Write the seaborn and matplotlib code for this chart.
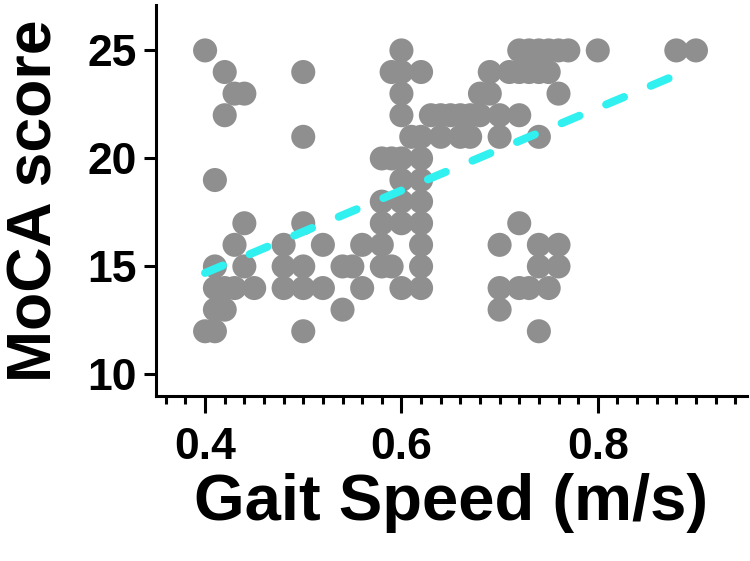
import numpy as np
import pandas as pd
import matplotlib
matplotlib.use('Agg')
import matplotlib.pyplot as plt
from matplotlib.ticker import MultipleLocator
import seaborn as sns

###############################################################################
# Data
###############################################################################
moca_levels = [25, 24, 23, 22, 21, 20, 19, 18, 17, 16, 15, 14, 13, 12]
gait_by_level = [
    [0.40, 0.60, 0.72, 0.73, 0.74, 0.75, 0.76, 0.77, 0.80, 0.88, 0.90],
    [0.42, 0.50, 0.59, 0.60, 0.62, 0.69, 0.71, 0.72, 0.73, 0.74, 0.75],
    [0.43, 0.44, 0.60, 0.68, 0.69, 0.76],
    [0.42, 0.60, 0.63, 0.64, 0.65, 0.66, 0.67, 0.68, 0.70, 0.72],
    [0.50, 0.61, 0.62, 0.64, 0.66, 0.67, 0.70, 0.74],
    [0.58, 0.59, 0.60, 0.62],
    [0.41, 0.60, 0.62],
    [0.58, 0.60, 0.62],
    [0.44, 0.50, 0.58, 0.60, 0.62, 0.72],
    [0.43, 0.48, 0.52, 0.56, 0.58, 0.62, 0.70, 0.74, 0.76],
    [0.41, 0.44, 0.48, 0.50, 0.54, 0.55, 0.58, 0.59, 0.62, 0.74, 0.76],
    [0.41, 0.42, 0.43, 0.45, 0.48, 0.50, 0.52, 0.56, 0.60, 0.62, 0.70, 0.72,
     0.73, 0.75],
    [0.41, 0.42, 0.54, 0.70],
    [0.40, 0.41, 0.50, 0.74],
]

# Fitted trend line as drawn in the figure (ends)
fit_x = [0.40, 0.89]
fit_y = [14.7, 24.05]

gait = [g for row in gait_by_level for g in row]
moca = [lvl for lvl, row in zip(moca_levels, gait_by_level) for _ in row]
df = pd.DataFrame({'gait_speed': gait, 'moca': moca})
df_fit = pd.DataFrame({'gait_speed': fit_x, 'moca': fit_y})

###############################################################################
# Plot
###############################################################################
sns.set_style('ticks')
plt.rcParams['font.family'] = ['Liberation Sans', 'DejaVu Sans']
plt.rcParams['font.weight'] = 'bold'
plt.rcParams['text.color'] = 'black'
plt.rcParams['axes.labelcolor'] = 'black'

fig = plt.figure(figsize=(7.5, 5.61), dpi=100)
ax = fig.add_axes([0.208, 0.294, 0.788, 0.697])

sns.scatterplot(data=df, x='gait_speed', y='moca', ax=ax, s=300,
                color='#8f8f8f', edgecolor='none', linewidth=0, zorder=2)
sns.lineplot(data=df_fit, x='gait_speed', y='moca', ax=ax,
             color='#30f0f0', lw=5.8, zorder=3,
             dashes=False, ls=(0, (2.4, 3.6)), dash_capstyle='round')

ax.set_xlim(0.35, 0.952)
ax.set_ylim(9, 27.1)
ax.xaxis.set_major_locator(MultipleLocator(0.2))
ax.xaxis.set_minor_locator(MultipleLocator(0.02))
ax.set_yticks([10, 15, 20, 25])

for side in ['top', 'right']:
    ax.spines[side].set_visible(False)
for side in ['left', 'bottom']:
    ax.spines[side].set_linewidth(2.2)
    ax.spines[side].set_color('black')

ax.tick_params(axis='both', which='major', width=2.2, labelsize=32,
               color='black', labelcolor='black')
ax.tick_params(axis='x', which='major', length=12, pad=10)
ax.tick_params(axis='x', which='minor', length=6, width=2.2, color='black')
ax.tick_params(axis='y', which='major', length=9, pad=5)
for lbl in ax.get_xticklabels() + ax.get_yticklabels():
    lbl.set_fontweight('bold')

ax.set_xlabel('Gait Speed (m/s)', fontsize=47, fontweight='bold', labelpad=4,
              color='black')
ax.set_ylabel('MoCA score', fontsize=45, fontweight='bold', labelpad=16,
              color='black')

plt.savefig('out.png', dpi=100)
plt.close()
